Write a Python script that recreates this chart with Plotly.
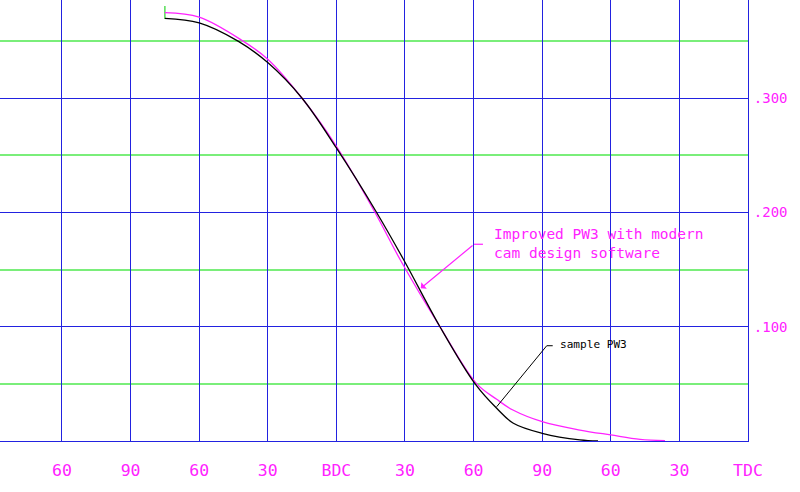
import plotly.graph_objects as go

# ---- data (crank angle units: one grid cell = 30 deg; BDC at 120, TDC at 300) ----
x_tickvals = [0, 30, 60, 90, 120, 150, 180, 210, 240, 270, 300]
x_ticktext = ["60", "90", "60", "30", "BDC", "30", "60", "90", "60", "30", "TDC"]
y_tickvals = [0.1, 0.2, 0.3]
y_ticktext = [".100", ".200", ".300"]

angle_sample = [45.0, 60.0, 77.0, 90.1, 105.0, 120.0, 137.6, 149.6, 165.3, 180.6,
                190.1, 197.4, 210.0, 226.5, 234.4]
lift_sample = [0.370, 0.366, 0.350, 0.331, 0.300, 0.2565, 0.200, 0.158, 0.100, 0.0502,
               0.0286, 0.0155, 0.0067, 0.0009, 0.0]

angle_improved = [45.0, 60.0, 79.2, 90.1, 105.0, 120.0, 136.9, 148.1, 165.3, 181.3,
                  190.1, 197.2, 210.0, 226.5, 240.0, 252.8, 263.7]
lift_improved = [0.375, 0.371, 0.350, 0.334, 0.300, 0.258, 0.200, 0.158, 0.100, 0.0502,
                 0.0365, 0.0271, 0.0169, 0.0096, 0.0053, 0.0015, 0.0003]

start_mark_x = [45.0, 45.0]
start_mark_y = [0.3694, 0.3807]

BLUE = "#2222e0"
GREEN = "#7aee7a"
MAGENTA = "#ff22ff"
FONT = "DejaVu Sans Mono"

fig = go.Figure()
fig.add_trace(go.Scatter(x=start_mark_x, y=start_mark_y, mode="lines",
                         line=dict(color="#55dd55", width=1.5), hoverinfo="skip"))
fig.add_trace(go.Scatter(x=angle_improved, y=lift_improved, mode="lines",
                         line=dict(color=MAGENTA, width=1.3, shape="spline", smoothing=1.0),
                         name="Improved PW3"))
fig.add_trace(go.Scatter(x=angle_sample, y=lift_sample, mode="lines",
                         line=dict(color="black", width=1.3, shape="spline", smoothing=1.0),
                         name="sample PW3"))

# leader lines
fig.add_shape(type="line", x0=180.2, y0=0.1722, x1=184.1, y1=0.1722,
              line=dict(color=MAGENTA, width=1.2))
fig.add_annotation(x=156.9, y=0.1337, ax=180.2, ay=0.1722, axref="x", ayref="y",
                   text="", showarrow=True, arrowhead=1, arrowsize=1.2, arrowwidth=1.2,
                   arrowcolor=MAGENTA)
fig.add_shape(type="line", x0=212.0, y0=0.0834, x1=214.6, y1=0.0834,
              line=dict(color="black", width=1))
fig.add_shape(type="line", x0=212.0, y0=0.0834, x1=190.1, y1=0.0300,
              line=dict(color="black", width=1))

fig.add_annotation(x=188.0, y=0.1729, text="Improved PW3 with modern<br>cam design software",
                   showarrow=False, xanchor="left", yanchor="middle", align="left",
                   font=dict(family=FONT, size=14.5, color=MAGENTA))
fig.add_annotation(x=217.0, y=0.0845, text="sample PW3", showarrow=False,
                   xanchor="left", yanchor="middle",
                   font=dict(family=FONT, size=11.1, color="black"))

fig.update_layout(
    width=800, height=492,
    margin=dict(l=0, r=52, t=0, b=51),
    paper_bgcolor="white", plot_bgcolor="white",
    showlegend=False,
    xaxis=dict(range=[-27.1, 300], tickmode="array", tickvals=x_tickvals, ticktext=x_ticktext,
               showgrid=True, gridcolor=BLUE, gridwidth=1, zeroline=False,
               showline=True, linecolor=BLUE, linewidth=1, ticks="",
               ticklabelstandoff=14,
               tickfont=dict(family=FONT, size=16.5, color=MAGENTA), fixedrange=True),
    yaxis=dict(range=[0, 0.386], side="right", tickmode="array", tickvals=y_tickvals,
               ticktext=y_ticktext, showgrid=True, gridcolor=BLUE, gridwidth=1,
               zeroline=False, showline=True, linecolor=BLUE, linewidth=1, ticks="",
               ticklabelstandoff=2,
               minor=dict(tickmode="linear", tick0=0.05, dtick=0.1, showgrid=True,
                          gridcolor=GREEN, gridwidth=1.5),
               tickfont=dict(family=FONT, size=14, color=MAGENTA), fixedrange=True),
)

fig.write_html("out.html", config={"displayModeBar": False},
               post_script="document.body.style.margin='0';")
